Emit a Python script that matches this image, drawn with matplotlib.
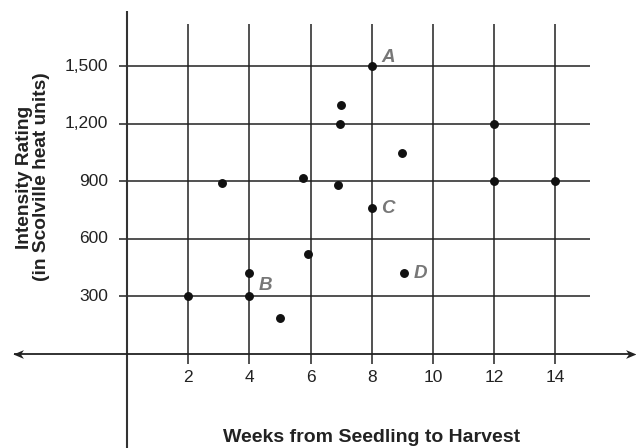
import numpy as np
import matplotlib
matplotlib.use('Agg')
import matplotlib.pyplot as plt
from matplotlib.path import Path

plt.rcParams['font.family'] = ['Liberation Sans', 'DejaVu Sans']

# data
weeks = [2, 4, 4, 5, 5.9, 3.1, 5.75, 8, 7, 6.95, 9, 6.9, 12, 12, 14, 8, 9.05]
rating = [300, 300, 420, 190, 520, 890, 920, 1500, 1300, 1200, 1050, 880, 1200, 900, 900, 760, 420]

# labelled points
lab_names = ['A', 'B', 'C', 'D']
lab_x = [8, 4, 8, 9.05]
lab_y = [1500, 300, 760, 420]
lab_dy = [9, 11, 0, 0]

xticks = [2, 4, 6, 8, 10, 12, 14]
yticks = [300, 600, 900, 1200, 1500]
ytick_labels = ['300', '600', '900', '1,200', '1,500']

line_c = '#222222'

fig = plt.figure(figsize=(6.36, 4.48), dpi=100)
ax = fig.add_axes([0, 0, 1, 1])
ax.set_xlim(-4.150, 16.634)
ax.set_ylim(-490.4, 1846.8)
ax.axis('off')

# grid
ax.vlines(xticks, -52, 1721, color=line_c, lw=1.1)
ax.hlines(yticks, -0.26, 15.13, color=line_c, lw=1.1)

# y axis
ax.vlines(0, -490.4, 1789, color='#333333', lw=1.5)

# x axis with arrow heads
ax.hlines(0, -3.7, 16.5, color=line_c, lw=1.3)
head = Path([(0, 0), (-1, 0.42), (-0.72, 0), (-1, -0.42), (0, 0)],
            [Path.MOVETO, Path.LINETO, Path.LINETO, Path.LINETO, Path.CLOSEPOLY])
head_l = Path(-head.vertices, head.codes)
ax.plot([16.62], [0], marker=head, ms=15, color=line_c, mew=0, clip_on=False)
ax.plot([-3.72], [0], marker=head_l, ms=15, color=line_c, mew=0, clip_on=False)

# points
ax.plot(weeks, rating, 'o', ms=5.4, color='#111111', zorder=3)

for name, x, y, dy in zip(lab_names, lab_x, lab_y, lab_dy):
    ax.annotate(name, (x, y), xytext=(16, dy), textcoords='offset pixels',
                ha='center', va='center', fontsize=13.5, fontweight='bold',
                fontstyle='italic', color='#777777')

# tick labels
for t, s in zip(yticks, ytick_labels):
    ax.text(-0.62, t, s, ha='right', va='center', fontsize=12.5, color='#222222')
for t in xticks:
    ax.text(t, -120, str(t), ha='center', va='center', fontsize=12.5, color='#222222')

# axis titles
ax.text(8.0, -438, 'Weeks from Seedling to Harvest', ha='center', va='center',
        fontsize=14, fontweight='bold', color='#222222')
ax.text(-3.07, 923, 'Intensity Rating\n(in Scolville heat units)', ha='center', va='center',
        rotation=90, fontsize=13.8, fontweight='bold', color='#222222', linespacing=1.05)

fig.savefig('out.png', dpi=100)
